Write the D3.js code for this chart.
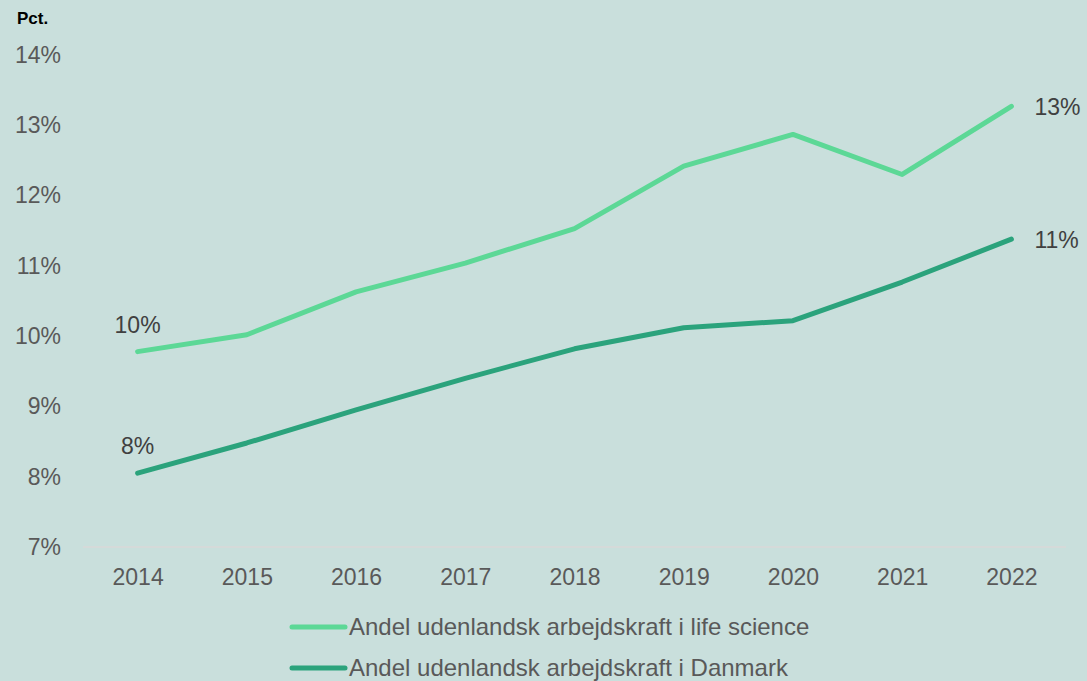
<!DOCTYPE html>
<html>
<head>
<meta charset="utf-8">
<script src="https://cdn.jsdelivr.net/npm/d3@7"></script>
<style>
    body { margin: 0; background: #c9dfdc; }
    svg { display: block; font-family: "Liberation Sans", Arial, sans-serif; }
</style>
</head>
<body>
<div id="chart"></div>
<script>
// Data
const years = ["2014", "2015", "2016", "2017", "2018", "2019", "2020", "2021", "2022"];
const lifeScience = [9.78, 10.02, 10.63, 11.04, 11.53, 12.42, 12.87, 12.30, 13.27];
const danmark = [8.05, 8.48, 8.95, 9.40, 9.82, 10.12, 10.22, 10.77, 11.38];
const yTicks = [7, 8, 9, 10, 11, 12, 13, 14];
const seriesNames = ["Andel udenlandsk arbejdskraft i life science", "Andel udenlandsk arbejdskraft i Danmark"];

const width = 1087, height = 681;
const colors = ["#5cd896", "#2ba37c"];
const fontSize = 23;

const svg = d3.select("#chart")
    .append("svg")
    .attr("width", width)
    .attr("height", height);

svg.append("rect").attr("width", width).attr("height", height).attr("fill", "#c9dfdc");

// Scales
const xScale = d3.scalePoint()
    .domain(years)
    .range([83, 1066])
    .padding(0.5);

const yScale = d3.scaleLinear()
    .domain([7, 14])
    .range([547, 55]);

// baseline
svg.append("line")
    .attr("x1", 83).attr("x2", 1066)
    .attr("y1", yScale(7)).attr("y2", yScale(7))
    .attr("stroke", "#d9d9d9")
    .attr("stroke-width", 1.5);

// y axis
const yAxis = d3.axisLeft(yScale)
    .tickValues(yTicks)
    .tickFormat(d => d + "%")
    .tickSize(0)
    .tickPadding(0);

const gy = svg.append("g")
    .attr("transform", "translate(61,0)")
    .call(yAxis);
gy.select(".domain").remove();
gy.selectAll("text")
    .attr("font-size", fontSize)
    .attr("fill", "#595959")
    .attr("font-family", "Liberation Sans, Arial, sans-serif");

// x axis
const xAxis = d3.axisBottom(xScale).tickSize(0).tickPadding(0);
const gx = svg.append("g")
    .attr("transform", "translate(0,568)")
    .call(xAxis);
gx.select(".domain").remove();
gx.selectAll("text")
    .attr("font-size", fontSize)
    .attr("fill", "#595959")
    .attr("dy", "0.72em")
    .attr("font-family", "Liberation Sans, Arial, sans-serif");

// "Pct."
svg.append("text")
    .attr("x", 17)
    .attr("y", 24)
    .attr("font-size", 17)
    .attr("font-weight", "bold")
    .attr("fill", "#000")
    .attr("font-family", "Liberation Sans Narrow, Liberation Sans, Arial, sans-serif")
    .text("Pct.");

// lines
const line = d3.line()
    .x((d, i) => xScale(years[i]))
    .y(d => yScale(d));

[lifeScience, danmark].forEach(function (serie, s) {
    svg.append("path")
        .datum(serie)
        .attr("fill", "none")
        .attr("stroke", colors[s])
        .attr("stroke-width", 5)
        .attr("stroke-linecap", "round")
        .attr("stroke-linejoin", "round")
        .attr("d", line);

    // labels ved første og sidste punkt
    svg.append("text")
        .attr("x", xScale(years[0]))
        .attr("y", yScale(serie[0]) - 19)
        .attr("text-anchor", "middle")
        .attr("font-size", fontSize)
        .attr("fill", "#404040")
        .text(Math.round(serie[0]) + "%");

    const last = serie.length - 1;
    svg.append("text")
        .attr("x", xScale(years[last]) + 23)
        .attr("y", yScale(serie[last]) + 9)
        .attr("font-size", fontSize)
        .attr("fill", "#404040")
        .text(Math.round(serie[last]) + "%");
});

// legend
seriesNames.forEach(function (name, i) {
    const y = 627 + i * 41;
    svg.append("line")
        .attr("x1", 292).attr("x2", 345)
        .attr("y1", y).attr("y2", y)
        .attr("stroke", colors[i])
        .attr("stroke-width", 5)
        .attr("stroke-linecap", "round");
    svg.append("text")
        .attr("x", 349)
        .attr("y", y + 8)
        .attr("font-size", 24)
        .attr("fill", "#595959")
        .text(name);
});
</script>
</body>
</html>
